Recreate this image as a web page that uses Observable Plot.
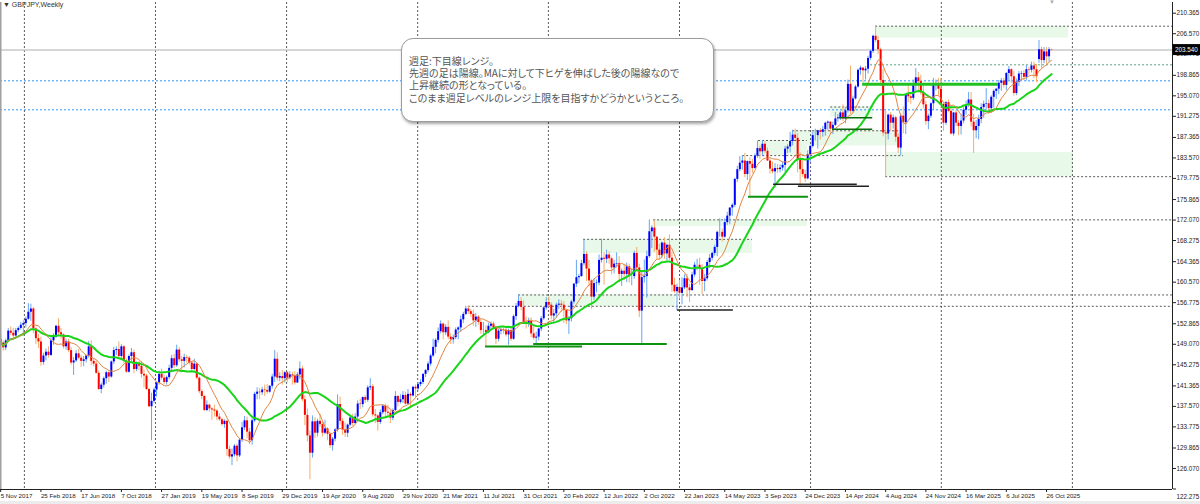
<!DOCTYPE html>
<html><head><meta charset="utf-8">
<script src="https://cdn.jsdelivr.net/npm/d3@7"></script>
<script src="https://cdn.jsdelivr.net/npm/@observablehq/plot@0.6"></script>
<style>
body{margin:0;background:#fff;}
#wrap{position:relative;width:1200px;height:504px;overflow:hidden;font-family:"Liberation Sans",Arial,sans-serif;}
#title{position:absolute;left:3px;top:1px;font-size:7px;color:#333;white-space:nowrap;}
#shift{position:absolute;left:1049px;top:-1px;font-size:6px;color:#aaa;}
#note{position:absolute;left:401px;top:38px;width:313px;height:84px;box-sizing:border-box;border:1px solid #9c9c9c;border-radius:12px;background:#fff;box-shadow:1px 2px 3px rgba(0,0,0,.35);padding:15.5px 0 0 7px;font-family:"Noto Sans CJK JP",sans-serif;font-size:10px;line-height:12.4px;color:#555;font-feature-settings:"palt";white-space:nowrap;}
#strip{position:absolute;left:0;top:501px;width:1200px;height:3px;background:#ececec;}
</style></head>
<body><div id="wrap"></div>
<script>
// ---------- data ----------
const symbolLabel = "GBPJPY,Weekly";
const noteLines = [
  "週足:下目線レンジ。",
  "先週の足は陽線。MAに対して下ヒゲを伸ばした後の陽線なので",
  "上昇継続の形となっている。",
  "このまま週足レベルのレンジ上限を目指すかどうかというところ。"
];
const lastPrice = 203.54;
const priceLabel = "203.540";
const firstWeek = "2017-11-05";
const xTickLabels = ["5 Nov 2017","25 Feb 2018","17 Jun 2018","7 Oct 2018","27 Jan 2019","19 May 2019","8 Sep 2019","29 Dec 2019","19 Apr 2020","9 Aug 2020","29 Nov 2020","21 Mar 2021","11 Jul 2021","31 Oct 2021","20 Feb 2022","12 Jun 2022","2 Oct 2022","22 Jan 2023","14 May 2023","3 Sep 2023","24 Dec 2023","14 Apr 2024","4 Aug 2024","24 Nov 2024","16 Mar 2025","6 Jul 2025","26 Oct 2025"];
const yTickLabels = ["210.365","206.570","202.775","198.865","195.070","191.275","187.365","183.570","179.775","175.865","172.070","168.275","164.365","160.570","156.775","152.865","149.070","145.275","141.365","137.570","133.775","129.865","126.070","122.275"];
const gridDates = ["2018-01-10","2019-01-10","2020-01-10","2021-01-09","2022-01-08","2023-01-08","2024-01-08","2025-01-06","2026-01-06"];

// weekly candles [open, high, low, close]
const c2017 = [[150.0,150.8,148.6,149.3],[149.3,149.7,147.8,148.4],[148.4,150.0,147.9,149.7],[149.7,152.0,149.4,151.5],[151.5,152.3,150.7,151.1],[151.1,152.0,150.2,150.6],[150.6,152.0,150.4,151.6],[151.6,152.3,151.2,152.0],[152.0,153.1,151.7,152.6]];
const c2018 = [[152.6,153.4,150.6,152.9],[152.9,154.1,152.1,153.7],[153.7,156.6,153.5,155.0],[155.0,156.5,153.3,155.6],[155.6,155.9,151.0,151.9],[151.9,152.1,149.0,150.1],[150.1,150.9,148.3,149.5],[149.5,150.4,145.0,145.7],[145.7,147.4,145.2,146.9],[146.9,148.2,146.0,147.6],[147.6,148.6,146.5,147.0],[147.0,150.3,146.8,149.7],[149.7,151.0,148.9,150.4],[150.4,152.6,150.2,152.4],[152.4,153.8,150.7,151.2],[151.2,152.0,150.0,150.8],[150.8,151.0,148.2,148.6],[148.6,150.0,148.0,149.5],[149.5,150.0,147.5,147.9],[147.9,148.5,145.2,145.6],[145.6,146.6,143.3,146.0],[146.0,147.9,145.7,147.3],[147.3,148.1,146.2,146.5],[146.5,147.0,144.8,145.9],[145.9,146.8,144.9,146.2],[146.2,147.0,145.6,146.9],[146.9,149.6,146.5,148.6],[148.6,149.7,145.1,145.9],[145.9,146.4,144.9,145.4],[145.4,146.0,143.5,143.7],[143.7,144.1,140.5,140.7],[140.7,141.9,139.9,141.5],[141.5,143.0,141.0,142.7],[142.7,144.1,141.7,143.8],[143.8,144.0,142.0,143.0],[143.0,146.0,142.8,145.8],[145.8,148.5,145.3,147.9],[147.9,148.6,147.0,148.1],[148.1,149.5,146.4,146.8],[146.8,149.0,146.3,148.6],[148.6,148.8,145.5,145.9],[145.9,146.3,143.7,143.9],[143.9,147.1,143.7,146.8],[146.8,148.3,145.8,147.5],[147.5,148.0,143.6,144.4],[144.4,145.8,144.0,145.3],[145.3,145.9,144.2,145.0],[145.0,145.9,142.8,143.5],[143.5,144.3,141.0,143.2],[143.2,143.5,140.5,140.7],[140.7,140.9,137.3,137.5],[137.5,140.0,131.2,138.5]];
const c2019 = [[138.5,141.0,138.1,140.6],[140.6,142.0,139.3,141.9],[141.9,144.1,141.5,143.5],[143.5,144.5,142.4,142.8],[142.8,143.3,141.6,142.0],[142.0,143.2,141.5,142.9],[142.9,145.2,142.5,144.6],[144.6,147.0,144.2,146.4],[146.4,147.2,144.6,145.1],[145.1,148.9,144.8,148.0],[148.0,148.5,145.7,146.2],[146.2,146.8,143.8,145.9],[145.9,147.2,144.7,146.6],[146.6,147.0,145.6,146.5],[146.5,146.8,145.2,145.6],[145.6,145.8,144.0,144.4],[144.4,146.3,144.1,145.4],[145.4,145.6,142.5,142.8],[142.8,143.0,139.9,140.3],[140.3,140.7,138.8,139.4],[139.4,139.6,136.6,136.8],[136.8,138.6,136.6,137.8],[137.8,138.0,136.5,137.1],[137.1,137.3,135.0,136.9],[136.9,137.8,135.6,136.7],[136.7,137.0,134.9,135.6],[135.6,136.2,134.8,135.1],[135.1,135.4,133.9,134.2],[134.2,135.1,133.5,134.8],[134.8,135.0,128.3,129.6],[129.6,130.2,127.8,128.2],[128.2,129.7,126.6,128.6],[128.6,130.5,128.2,130.2],[130.2,130.6,127.3,128.4],[128.4,131.6,128.1,131.3],[131.3,134.6,130.9,133.6],[133.6,135.7,133.1,134.9],[134.9,135.6,131.6,132.8],[132.8,133.5,130.5,131.2],[131.2,135.3,130.4,134.9],[134.9,140.2,134.6,139.8],[139.8,141.0,138.8,140.2],[140.2,140.9,138.8,140.1],[140.1,141.1,139.6,140.6],[140.6,141.5,139.4,140.5],[140.5,141.6,139.8,140.2],[140.2,141.4,140.0,141.3],[141.3,143.5,140.8,143.0],[143.0,147.9,142.0,146.3],[146.3,147.5,142.2,142.8],[142.8,143.8,142.1,143.1],[143.1,144.2,141.5,142.7]];
const c2020 = [[142.7,144.0,141.9,143.8],[143.8,144.0,142.0,142.8],[142.8,144.0,142.5,143.4],[143.4,143.9,141.5,143.2],[143.2,144.0,141.5,141.9],[141.9,143.8,141.8,143.4],[143.4,145.8,142.5,144.5],[144.5,145.0,138.4,138.8],[138.8,139.5,134.0,135.9],[135.9,137.1,131.0,132.1],[132.1,133.0,124.0,128.9],[128.9,135.8,128.0,134.7],[134.7,135.5,131.6,132.6],[132.6,135.2,131.9,134.8],[134.8,136.1,133.7,134.2],[134.2,134.6,131.9,132.6],[132.6,135.0,132.3,133.4],[133.4,133.6,131.2,132.4],[132.4,132.6,129.8,130.3],[130.3,131.8,129.3,131.5],[131.5,133.5,131.0,133.2],[133.2,139.7,132.8,137.9],[137.9,139.3,134.1,134.8],[134.8,135.3,132.2,133.2],[133.2,134.5,131.8,132.6],[132.6,134.3,131.8,134.1],[134.1,135.8,133.8,135.4],[135.4,136.1,133.9,134.4],[134.4,136.2,134.2,135.6],[135.6,138.6,135.0,138.0],[138.0,138.9,137.0,137.9],[137.9,139.3,137.3,139.2],[139.2,139.6,138.1,138.7],[138.7,141.4,138.3,141.0],[141.0,142.7,140.5,141.2],[141.2,141.6,135.6,136.0],[136.0,137.0,134.4,135.8],[135.8,136.0,133.0,134.6],[134.6,136.9,134.2,136.4],[136.4,137.9,136.0,137.6],[137.6,138.0,135.3,136.5],[136.5,137.8,135.6,136.3],[136.3,136.9,134.4,135.4],[135.4,137.1,134.9,136.8],[136.8,140.3,136.6,139.4],[139.4,139.6,137.5,138.3],[138.3,139.7,138.0,138.8],[138.8,140.3,138.1,139.6],[139.6,140.2,137.8,138.0],[138.0,140.7,137.9,139.8],[139.8,140.1,137.4,139.5],[139.5,141.3,139.3,141.1]];
const c2021 = [[141.1,141.5,139.2,140.8],[140.8,142.0,140.5,141.6],[141.6,142.5,141.2,142.0],[142.0,143.6,141.6,143.5],[143.5,144.4,142.9,144.2],[144.2,145.8,143.8,145.4],[145.4,147.2,145.0,146.9],[146.9,150.0,146.6,148.5],[148.5,150.1,147.3,149.8],[149.8,152.1,149.3,151.4],[151.4,153.4,151.0,152.8],[152.8,153.0,149.9,151.2],[151.2,152.7,150.7,152.2],[152.2,153.4,149.9,150.4],[150.4,151.0,149.0,149.9],[149.9,150.8,149.1,150.3],[150.3,152.1,149.9,151.7],[151.7,152.3,149.9,152.1],[152.1,154.3,151.3,153.6],[153.6,155.0,152.9,154.6],[154.6,156.1,154.4,155.6],[155.6,156.1,154.6,155.1],[155.1,155.5,154.1,154.6],[154.6,155.4,152.4,153.4],[153.4,154.8,152.2,154.1],[154.1,154.4,152.6,153.1],[153.1,153.6,150.9,151.6],[151.6,153.1,150.7,151.6],[151.6,152.5,148.5,151.2],[151.2,153.0,151.0,152.4],[152.4,153.2,151.9,152.8],[152.8,153.2,151.9,152.1],[152.1,152.3,149.0,150.0],[150.0,151.8,149.5,151.5],[151.5,152.2,150.8,151.8],[151.8,152.2,150.9,151.7],[151.7,152.0,150.4,150.8],[150.8,151.9,148.9,151.6],[151.6,152.3,149.6,150.0],[150.0,154.5,149.8,154.2],[154.2,156.6,153.5,156.1],[156.1,158.2,155.8,157.0],[157.0,157.7,155.3,155.9],[155.9,157.1,152.8,153.1],[153.1,154.1,151.9,152.9],[152.9,153.9,152.2,153.3],[153.3,154.0,150.3,151.0],[151.0,152.4,149.8,150.2],[150.2,151.3,149.0,150.4],[150.4,152.0,149.7,151.9],[151.9,154.2,151.4,153.8],[153.8,156.0,153.5,155.8]];
const c2022 = [[155.8,157.7,155.4,156.8],[156.8,157.8,155.9,156.3],[156.3,156.8,153.6,154.3],[154.3,155.5,152.9,154.7],[154.7,156.7,153.9,156.3],[156.3,157.3,155.5,156.5],[156.5,157.2,155.0,156.3],[156.3,157.0,152.9,155.3],[155.3,155.5,152.7,153.4],[153.4,154.2,150.9,153.8],[153.8,157.2,153.2,156.9],[156.9,160.3,156.5,160.2],[160.2,164.6,159.6,161.4],[161.4,162.0,160.3,161.6],[161.6,164.6,161.5,164.0],[164.0,168.4,163.6,165.7],[165.7,166.2,160.7,163.0],[163.0,164.6,159.7,160.8],[160.8,161.0,155.6,157.8],[157.8,161.1,157.2,160.3],[160.3,161.0,158.6,160.4],[160.4,165.6,159.9,164.6],[164.6,168.5,164.1,165.0],[165.0,166.0,160.0,164.8],[164.8,166.5,164.0,165.6],[165.6,166.2,163.9,164.9],[164.9,165.2,161.9,163.2],[163.2,164.6,162.1,163.9],[163.9,166.0,163.2,164.0],[164.0,165.3,160.4,162.0],[162.0,163.0,159.8,162.6],[162.6,163.9,160.8,162.0],[162.0,164.1,160.5,163.4],[163.4,163.9,160.4,161.6],[161.6,163.0,159.9,161.6],[161.6,166.3,161.1,165.9],[165.9,167.0,162.6,163.2],[163.2,163.9,154.0,155.2],[155.2,162.4,148.8,161.4],[161.4,164.7,160.4,161.6],[161.6,166.3,157.6,165.3],[165.3,172.1,165.0,169.9],[169.9,171.0,166.8,170.6],[170.6,171.9,166.1,168.9],[168.9,169.0,164.8,166.5],[166.5,167.6,164.7,165.5],[165.5,168.0,164.9,167.8],[167.8,168.8,164.8,165.8],[165.8,167.6,164.5,167.4],[167.4,169.3,164.6,165.0],[165.0,166.0,158.7,160.0],[160.0,161.3,158.5,158.8]];
const c2023 = [[158.8,160.2,155.4,159.6],[159.6,160.9,157.4,158.5],[158.5,161.4,156.4,159.5],[159.5,161.9,159.2,161.2],[161.2,162.0,157.7,159.5],[159.5,160.2,156.8,159.0],[159.0,162.4,158.9,161.9],[161.9,164.2,161.5,163.7],[163.7,164.8,162.7,163.7],[163.7,165.0,160.0,163.1],[163.1,163.8,158.3,160.7],[160.7,162.0,158.8,161.2],[161.2,164.6,160.8,164.2],[164.2,165.7,163.1,165.0],[165.0,166.1,164.5,165.9],[165.9,167.4,165.4,167.0],[167.0,170.0,165.3,169.8],[169.8,172.3,168.9,169.8],[169.8,170.4,168.0,168.9],[168.9,172.3,168.7,171.6],[171.6,173.5,171.1,172.8],[172.8,174.3,171.2,174.3],[174.3,175.1,172.8,174.8],[174.8,179.8,174.4,179.6],[179.6,182.0,179.0,181.4],[181.4,183.8,181.0,182.6],[182.6,184.0,181.3,183.0],[183.0,184.4,179.9,180.5],[180.5,183.0,179.4,182.9],[182.9,183.6,176.5,182.4],[182.4,183.3,180.7,181.6],[181.6,184.3,181.5,183.9],[183.9,186.7,183.5,185.3],[185.3,185.8,183.3,184.7],[184.7,186.8,183.8,186.1],[186.1,186.6,184.4,184.8],[184.8,185.4,182.9,183.0],[183.0,183.3,180.6,181.5],[181.5,182.8,180.6,181.0],[181.0,182.5,178.0,181.6],[181.6,182.4,180.7,181.4],[181.4,182.3,180.8,181.7],[181.7,182.8,181.1,182.2],[182.2,185.7,180.9,185.2],[185.2,186.0,184.4,185.6],[185.6,188.3,184.5,186.6],[186.6,188.7,185.8,187.8],[187.8,188.9,186.8,187.2],[187.2,188.1,180.8,183.2],[183.2,184.5,178.3,181.4],[181.4,183.2,180.0,180.5],[180.5,181.3,179.0,179.7],[179.7,184.9,179.5,184.2]];
const c2024 = [[184.2,185.9,182.7,185.7],[185.7,188.3,185.4,187.7],[187.7,188.9,186.7,187.7],[187.7,188.7,185.2,188.6],[188.6,189.0,186.9,188.3],[188.3,189.4,187.4,188.8],[188.8,190.2,187.6,190.0],[190.0,190.4,188.6,190.2],[190.2,190.3,188.0,188.9],[188.9,190.2,187.9,189.6],[189.6,192.0,189.4,190.8],[190.8,191.6,190.2,191.0],[191.0,192.2,190.5,191.9],[191.9,193.4,190.3,190.8],[190.8,192.9,189.9,192.3],[192.3,198.0,191.9,197.2],[197.2,200.6,191.6,192.2],[192.2,195.0,191.9,194.5],[194.5,197.0,194.3,196.7],[196.7,200.0,196.5,199.8],[199.8,200.6,198.9,200.2],[200.2,200.3,197.4,199.7],[199.7,200.5,198.0,200.0],[200.0,202.4,199.1,202.0],[202.0,203.5,201.6,203.3],[203.3,206.3,202.9,206.1],[206.1,208.1,204.9,205.3],[205.3,206.0,202.7,203.6],[203.6,203.9,196.9,197.9],[197.9,199.9,187.5,188.2],[188.2,192.3,180.0,188.0],[188.0,191.7,186.9,191.5],[191.5,192.0,188.5,190.0],[190.0,191.5,188.9,191.0],[191.0,191.3,186.5,187.4],[187.4,188.0,184.4,185.4],[185.4,191.7,184.0,191.3],[191.3,193.0,188.0,190.1],[190.1,195.3,187.9,195.3],[195.3,196.8,193.8,194.9],[194.9,195.6,193.5,194.6],[194.6,198.0,194.2,197.0],[197.0,200.1,195.9,198.4],[198.4,199.4,195.9,197.7],[197.7,198.9,195.2,195.6],[195.6,196.9,192.6,193.4],[193.4,194.0,189.6,190.3],[190.3,191.7,188.8,191.3],[191.3,193.8,190.9,193.6],[193.6,198.3,192.4,197.0],[197.0,198.0,196.0,197.2],[197.2,198.3,195.0,196.3]];
const c2025 = [[196.3,198.3,193.4,193.5],[193.5,193.6,188.5,190.0],[190.0,194.0,189.6,193.8],[193.8,194.3,191.9,192.2],[192.2,193.1,187.8,188.0],[188.0,192.0,187.6,191.9],[191.9,192.3,189.4,190.0],[190.0,190.5,187.7,189.4],[189.4,191.5,187.8,190.4],[190.4,193.0,189.9,192.4],[192.4,194.1,191.5,193.4],[193.4,195.7,192.9,194.3],[194.3,195.7,189.3,190.2],[190.2,191.6,184.4,188.6],[188.6,190.5,187.1,189.4],[189.4,191.5,186.9,190.7],[190.7,193.6,189.9,192.9],[192.9,194.1,190.9,193.5],[193.5,196.4,192.4,193.6],[193.6,194.3,191.7,192.7],[192.7,195.1,191.8,194.8],[194.8,196.2,192.8,195.9],[195.9,196.4,194.4,196.3],[196.3,197.9,195.3,197.4],[197.4,198.3,195.9,197.8],[197.8,198.3,196.5,197.0],[197.0,199.4,196.0,199.2],[199.2,200.5,197.9,199.9],[199.9,200.1,197.4,198.6],[198.6,199.6,195.0,195.5],[195.5,198.2,195.1,197.6],[197.6,199.6,196.8,199.1],[199.1,199.6,197.8,199.2],[199.2,199.8,197.9,198.5],[198.5,200.7,197.8,199.9],[199.9,200.4,198.9,199.8],[199.8,201.3,199.3,200.6],[200.6,201.3,198.3,199.9],[199.9,200.9,197.5,198.6],[201.8,205.3,201.1,203.6],[203.6,204.1,200.1,201.6],[201.6,204.0,201.0,203.2],[203.2,204.0,200.9,202.3],[202.3,204.0,201.3,203.6],[203.6,203.7,203.3,203.54]];

// drawn objects: [from, to, price] (null = chart edge)
const zoneBoxes = [["2024-07-07","2025-12-26",205.74,207.96],["2024-08-04","2026-01-09",180.1,184.6],["2023-11-19","2024-09-14",185.8,188.6],["2023-08-16","2023-12-30",184.0,186.8],["2024-03-04","2024-07-01",191.1,193.0],["2022-10-28","2023-12-30",170.9,172.1],["2022-04-16","2023-07-30",165.9,168.5],["2021-10-17","2022-12-28",156.1,158.2]];
const grayDotted = [["2024-07-07",null,207.96],["2024-08-04",null,180.1],["2023-07-03","2024-09-23",184.0],["2023-11-19","2024-09-14",188.6],["2023-08-16","2023-12-30",186.8],["2024-03-04","2024-07-01",193.0],["2022-10-28",null,172.1],["2022-04-16","2023-07-30",168.5],["2021-10-17",null,158.2],["2021-05-30",null,156.1]];
const greenDotted = [["2024-06-23",null,200.81]];
const blueDotted = [[null,null,197.85],[null,null,192.48]];
const thickGreenLines = [["2024-06-01","2025-06-14",197.2]];
const greenLines = [["2021-07-17","2022-04-13",148.65],["2021-11-28","2022-12-05",149.1],["2023-07-19","2024-01-02",176.4]];
const blackLines = [["2023-01-02","2023-06-07",155.4],["2023-09-27","2024-05-17",178.7],["2023-12-05","2024-06-20",178.35]];
const darkGreenLines = [["2024-03-28","2024-06-29",191.0],["2024-03-09","2024-06-29",188.9]];

// ---------- build ----------
const DAY = 864e5;
const t0 = new Date(firstWeek).getTime();
const rows = [].concat(c2017,c2018,c2019,c2020,c2021,c2022,c2023,c2024,c2025);
const candles = rows.map(([o,h,l,c],i)=>({date:new Date(t0+i*7*DAY),o,h,l,c}));
const bull = candles.filter(d=>d.c>=d.o), bear = candles.filter(d=>d.c<d.o);
const xMin = new Date(t0-0.08*7*DAY), xMax = new Date(t0+466.1*7*DAY);
const yMin = 122.18, yMax = 212.35;
const dt = (s,edge)=> s ? new Date(s) : edge;
const seg = () => ({x1:d=>dt(d[0],xMin), x2:d=>dt(d[1],xMax), y:d=>d[2]});
const parseX = d3.utcParse("%d %b %Y");
const xTicks = xTickLabels.map(parseX);
const xLab = new Map(xTicks.map((d,i)=>[+d,xTickLabels[i]]));
const yVals = yTickLabels.map(Number);
const yLab = new Map(yVals.map((v,i)=>[v,yTickLabels[i]]));
const lastY = yVals[yVals.length-1];

const chart = Plot.plot({
  width:1200, height:504,
  marginLeft:0, marginRight:28, marginTop:2, marginBottom:15,
  style:{fontFamily:"'Liberation Sans',Arial,sans-serif", fontSize:"6.3px", color:"#222", background:"transparent", overflow:"visible"},
  x:{type:"utc", domain:[xMin,xMax]},
  y:{domain:[yMin,yMax]},
  marks:[
    Plot.rect(zoneBoxes,{x1:d=>dt(d[0]),x2:d=>dt(d[1]),y1:d=>d[2],y2:d=>d[3],fill:"#e9f9e9"}),
    Plot.ruleX(gridDates.map(s=>new Date(s)),{stroke:"#5a5a5a",strokeDasharray:"2,2",strokeWidth:1}),
    Plot.ruleY(grayDotted,{...seg(),stroke:"#5c5c5c",strokeDasharray:"2,2"}),
    Plot.ruleY(greenDotted,{...seg(),stroke:"#5f9f80",strokeDasharray:"2,2"}),
    Plot.ruleY(blueDotted,{...seg(),stroke:"#2f95ff",strokeDasharray:"2,2"}),
    Plot.ruleY([lastPrice],{stroke:"#c8c8c8",strokeWidth:1.5}),
    Plot.ruleX(bull,{x:"date",y1:"l",y2:"h",stroke:"#66a6f2",strokeWidth:1}),
    Plot.ruleX(bear,{x:"date",y1:"l",y2:"h",stroke:"#f4ad6a",strokeWidth:1}),
    Plot.ruleX(bull,{x:"date",y1:"o",y2:"c",stroke:"#0000ff",strokeWidth:2}),
    Plot.ruleX(bear,{x:"date",y1:"o",y2:"c",stroke:"#ff0000",strokeWidth:2}),
    Plot.lineY(candles,Plot.windowY({k:26,anchor:"end",reduce:"mean"},{x:"date",y:"c",stroke:"#19d419",strokeWidth:2})),
    Plot.lineY(candles,Plot.windowY({k:10,anchor:"end",reduce:"mean"},{x:"date",y:"c",stroke:"#e2843f",strokeWidth:1})),
    Plot.ruleY(thickGreenLines,{...seg(),stroke:"#1fc21f",strokeWidth:3}),
    Plot.ruleY(greenLines,{...seg(),stroke:"#0e930e",strokeWidth:2}),
    Plot.ruleY(blackLines,{...seg(),stroke:"#222",strokeWidth:1.5}),
    Plot.ruleY(darkGreenLines,{...seg(),stroke:"#0b6b0b",strokeWidth:1.5}),
    Plot.ruleX([xMin],{stroke:"#a0a0a0",strokeWidth:2}),
    Plot.ruleX([xMax],{stroke:"#222",strokeWidth:1}),
    Plot.ruleY([yMin],{stroke:"#222",strokeWidth:1}),
    Plot.axisY(yVals,{anchor:"right",tickSize:3,tickPadding:1,tickFormat:v=>v===lastY?"":yLab.get(v),fontSize:6.3,label:null}),
    Plot.text([lastY],{x:xMax,y:d=>d,text:d=>yLab.get(d),dx:4,dy:8,textAnchor:"start",fontSize:6.3,fill:"#222"}),
    Plot.axisX(xTicks,{anchor:"bottom",tickSize:3,tickPadding:1,textAnchor:"start",tickFormat:d=>xLab.get(+d),fontSize:6.2,label:null})
  ]
});

// price label on the axis, positioned with the plot's scales
const sx = chart.scale("x"), sy = chart.scale("y");
const px = sx.apply(xMax), py = sy.apply(lastPrice);
const g = d3.select(chart).append("g");
g.append("rect").attr("x",px+0.5).attr("y",py-5.5).attr("width",1200-px).attr("height",11).attr("fill","#000");
g.append("text").attr("x",px+3).attr("y",py).attr("dy","0.35em").attr("text-anchor","start").attr("fill","#fff").attr("font-size",6.3).text(priceLabel);

const wrap = document.getElementById("wrap");
wrap.appendChild(chart);
const title = document.createElement("div"); title.id="title"; title.textContent = "▼ " + symbolLabel; wrap.appendChild(title);
const shift = document.createElement("div"); shift.id="shift"; shift.textContent="▼"; wrap.appendChild(shift);
const note = document.createElement("div"); note.id="note";
noteLines.forEach(t=>{const l=document.createElement("div"); l.textContent=t; note.appendChild(l);});
wrap.appendChild(note);
const strip = document.createElement("div"); strip.id="strip"; wrap.appendChild(strip);
</script>
</body></html>
